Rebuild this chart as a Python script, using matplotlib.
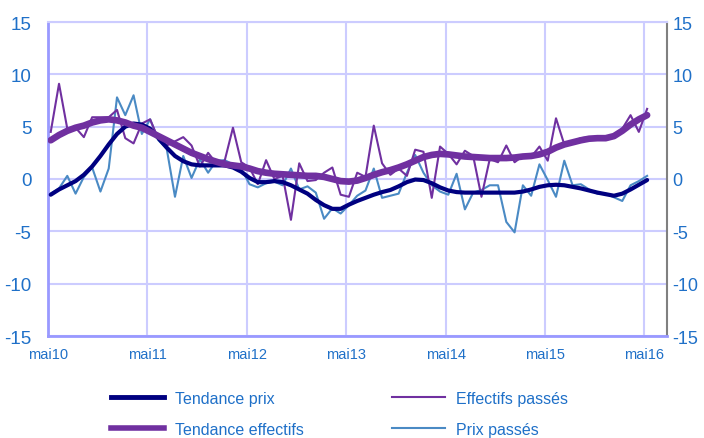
import numpy as np
import matplotlib
matplotlib.use("Agg")
import matplotlib.pyplot as plt
from matplotlib.lines import Line2D

plt.rcParams['font.family'] = ['Liberation Sans', 'DejaVu Sans']
plt.rcParams['axes.unicode_minus'] = False

months = np.arange(73)
tick_labels = ["mai10", "mai11", "mai12", "mai13", "mai14", "mai15", "mai16"]

tendance_prix = [-1.5, -1.0, -0.6, -0.2, 0.4, 1.2, 2.2, 3.3, 4.3, 5.0, 5.3, 5.2,
                 4.8, 3.9, 3.0, 2.2, 1.7, 1.4, 1.3, 1.3, 1.3, 1.3, 1.1, 0.7,
                 0.1, -0.3, -0.3, -0.2, -0.3, -0.6, -1.0, -1.4, -2.0, -2.5, -2.85, -2.85,
                 -2.45, -2.1, -1.8, -1.5, -1.25, -1.05, -0.7, -0.3, -0.05, -0.1, -0.4, -0.8,
                 -1.1, -1.25, -1.3, -1.3, -1.3, -1.3, -1.3, -1.3, -1.3, -1.2, -1.0, -0.75,
                 -0.6, -0.55, -0.6, -0.75, -0.9, -1.1, -1.3, -1.45, -1.6, -1.4, -1.0, -0.55,
                 -0.1]

tendance_effectifs = [3.7, 4.2, 4.6, 4.9, 5.1, 5.4, 5.6, 5.7, 5.6, 5.4, 5.1, 4.9,
                      4.5, 4.1, 3.7, 3.3, 2.9, 2.5, 2.2, 1.9, 1.65, 1.4, 1.3, 1.2,
                      1.0, 0.75, 0.6, 0.5, 0.45, 0.4, 0.35, 0.3, 0.3, 0.2, 0.0, -0.2,
                      -0.25, -0.15, 0.1, 0.4, 0.65, 0.85, 1.1, 1.4, 1.75, 2.1, 2.3, 2.4,
                      2.35, 2.25, 2.15, 2.1, 2.05, 2.0, 2.0, 2.0, 2.05, 2.15, 2.2, 2.35,
                      2.6, 3.0, 3.3, 3.5, 3.7, 3.85, 3.9, 3.9, 4.1, 4.6, 5.2, 5.7,
                      6.1]

effectifs_passes = [4.5, 9.1, 4.8, 4.9, 4.0, 5.9, 5.9, 5.9, 6.6, 3.9, 3.4, 5.3,
                    5.7, 3.8, 3.2, 3.6, 4.0, 3.2, 1.2, 2.5, 1.5, 1.75, 4.9, 1.6,
                    1.1, -0.5, 1.8, 0.0, 0.3, -3.9, 1.5, -0.2, -0.1, 0.6, 1.1, -1.5,
                    -1.7, 0.6, 0.2, 5.1, 1.5, 0.4, 1.0, 0.3, 2.8, 2.6, -1.8, 3.1,
                    2.4, 1.4, 2.7, 2.2, -1.7, 1.9, 1.6, 3.2, 1.6, 2.2, 2.1, 3.1,
                    1.75, 5.8, 3.3, 3.6, 3.9, 4.0, 3.9, 3.9, 4.2, 4.8, 6.1, 4.5,
                    6.7]

prix_passes = [-1.4, -0.9, 0.3, -1.4, 0.2, 1.1, -1.2, 1.0, 7.8, 6.1, 8.0, 4.3,
               5.7, 3.7, 2.9, -1.7, 2.2, 0.1, 1.9, 0.6, 1.75, 1.8, 1.4, 1.0,
               -0.5, -0.8, -0.4, -0.25, -0.6, 1.0, -1.0, -0.7, -1.3, -3.8, -2.8, -3.3,
               -2.5, -1.6, -1.1, 1.0, -1.8, -1.6, -1.4, 0.6, 2.3, 0.6, -0.6, -1.2,
               -1.5, 0.5, -2.9, -1.3, -1.05, -0.6, -0.6, -4.1, -5.1, -0.6, -1.6, 1.4,
               -0.1, -1.7, 1.75, -0.6, -0.5, -1.0, -1.4, -1.4, -1.75, -2.1, -0.6, -0.2,
               0.3]

C_NAVY = "#000080"
C_PURPLE = "#7030A0"
C_BLUE = "#4A8AC4"
C_TEXT = "#1F70C8"
C_GRID = "#CCCCFF"

fig = plt.figure(figsize=(7.04, 4.39), dpi=100)
ax = fig.add_axes([48/704, 1-337/439, (667-48)/704, (337-23)/439])

ax.plot(months, prix_passes, color=C_BLUE, lw=1.5, zorder=3)
ax.plot(months, effectifs_passes, color=C_PURPLE, lw=1.5, zorder=3)
ax.plot(months, tendance_prix, color=C_NAVY, lw=3.0, zorder=4, solid_capstyle='round')
ax.plot(months, tendance_effectifs, color=C_PURPLE, lw=4.8, zorder=4, solid_capstyle='round')

xticks = [12*k - 0.33 for k in range(len(tick_labels))]
ax.set_xlim(-0.33, 74.4)
ax.set_ylim(-15, 15)
ax.set_xticks(xticks)
ax.set_xticklabels(tick_labels)
ax.set_yticks(range(-15, 16, 5))
ax.grid(True, color=C_GRID, lw=1.5, zorder=0)
ax.set_axisbelow(True)
ax.tick_params(axis='x', length=0, pad=8, labelsize=10.5, labelcolor=C_TEXT)
ax.tick_params(axis='y', length=0, pad=12, labelsize=13.5, labelcolor=C_TEXT)

for s in ['left', 'bottom']:
    ax.spines[s].set_color("#9999FF")
    ax.spines[s].set_linewidth(2)
ax.spines['top'].set_color(C_GRID)
ax.spines['top'].set_linewidth(1.5)
ax.spines['right'].set_color("#808080")
ax.spines['right'].set_linewidth(1.5)

ax2 = ax.twinx()
ax2.set_ylim(-15, 15)
ax2.set_yticks(range(-15, 16, 5))
ax2.tick_params(axis='y', length=0, pad=4, labelsize=13, labelcolor=C_TEXT)
for s in ax2.spines.values():
    s.set_visible(False)

handles = [
    Line2D([], [], color=C_NAVY, lw=3.5),
    Line2D([], [], color=C_PURPLE, lw=4),
    Line2D([], [], color=C_PURPLE, lw=1.5),
    Line2D([], [], color=C_BLUE, lw=1.5),
]
labels = ["Tendance prix", "Tendance effectifs", "Effectifs passés", "Prix passés"]
leg = fig.legend(handles, labels, ncol=2, loc='center left',
                 bbox_to_anchor=(97/704, 1-415/439), frameon=False,
                 fontsize=11.5, handlelength=3.3, handletextpad=0.7,
                 columnspacing=5.5, labelspacing=1.0)
for t in leg.get_texts():
    t.set_color(C_TEXT)

fig.savefig("out.png", dpi=100)
